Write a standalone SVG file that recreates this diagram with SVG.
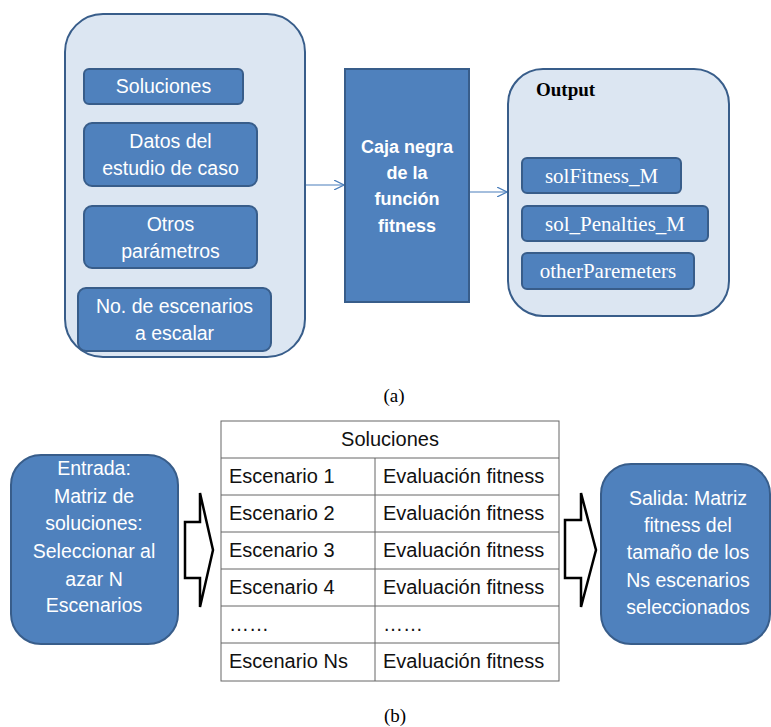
<svg xmlns="http://www.w3.org/2000/svg" width="771" height="727" viewBox="0 0 771 727">
<defs>
<style>
.cont{fill:#DCE6F2;stroke:#385D8A;stroke-width:2}
.blue{fill:#4F81BD;stroke:#385D8A;stroke-width:2}
.wt{font-family:"Liberation Sans","Open Sans",sans-serif;font-size:19.5px;fill:#fff;text-anchor:middle}
.wb{font-family:"Liberation Sans","Open Sans",sans-serif;font-size:18px;font-weight:bold;fill:#fff;text-anchor:middle}
.ws{font-family:"Liberation Serif","DejaVu Serif",serif;font-size:21px;fill:#fff;text-anchor:middle}
.cap{font-family:"Liberation Serif","DejaVu Serif",serif;font-size:19px;fill:#000;text-anchor:middle}
.tt{font-family:"Liberation Sans","Open Sans",sans-serif;font-size:20px;fill:#111}
.grid{stroke:#666;stroke-width:1;fill:none}
.blk{fill:#fff;stroke:#000;stroke-width:2.5}
.conn{stroke:#4A7EBB;stroke-width:1.2;fill:none}
</style>
<marker id="ah" viewBox="0 0 10 10" refX="10" refY="5" markerWidth="10" markerHeight="10" markerUnits="userSpaceOnUse" orient="auto">
<path d="M0,0 L10,5 L0,10" fill="none" stroke="#4A7EBB" stroke-width="1.2"/>
</marker>
</defs>
<rect width="771" height="727" fill="#fff"/>

<g id="inputs">
<rect class="cont" x="65" y="14" width="240" height="343" rx="38"/>
<g id="soluciones"><rect class="blue" x="84" y="69" width="159" height="35" rx="5"/><text class="wt" x="163.5" y="93">Soluciones</text></g>
<g id="datos"><rect class="blue" x="84" y="123" width="173" height="63" rx="8"/><text class="wt" x="170.5" y="148">Datos del</text><text class="wt" x="170.5" y="175">estudio de caso</text></g>
<g id="otros"><rect class="blue" x="84" y="206" width="173" height="62" rx="8"/><text class="wt" x="170.5" y="231">Otros</text><text class="wt" x="170.5" y="258">parámetros</text></g>
<g id="escenarios"><rect class="blue" x="78" y="288" width="193" height="63" rx="8"/><text class="wt" x="174.5" y="313">No. de escenarios</text><text class="wt" x="174.5" y="340">a escalar</text></g>
</g>

<g id="caja"><rect class="blue" x="345" y="69" width="124" height="233"/>
<text class="wb" x="407" y="153">Caja negra</text><text class="wb" x="407" y="179">de la</text><text class="wb" x="407" y="205">función</text><text class="wb" x="407" y="232">fitness</text></g>

<g id="output">
<rect class="cont" x="508" y="69" width="221" height="247" rx="35"/>
<text x="536" y="96" style="font-family:'Liberation Serif','DejaVu Serif',serif;font-size:19px;font-weight:bold;fill:#000">Output</text>
<g id="solFitness"><rect class="blue" x="522" y="158" width="159" height="35" rx="5"/><text class="ws" x="601.5" y="183">solFitness_M</text></g>
<g id="solPen"><rect class="blue" x="522" y="206" width="186" height="35" rx="5"/><text class="ws" x="615" y="231">sol_Penalties_M</text></g>
<g id="otherP"><rect class="blue" x="522" y="253" width="172" height="36" rx="5"/><text class="ws" x="608" y="278">otherParemeters</text></g>
</g>

<g id="connectors">
<line class="conn" x1="306" y1="185" x2="344" y2="185" marker-end="url(#ah)"/>
<line class="conn" x1="470" y1="192" x2="507" y2="192" marker-end="url(#ah)"/>
<polygon class="blk" points="185,522 200,522 200,493 213,550 200,607 200,578 185,578"/>
<polygon class="blk" points="565,520 581,520 581,493 596,550 581,607 581,578 565,578"/>
</g>

<text class="cap" x="394" y="402">(a)</text>

<g id="entrada"><rect class="blue" x="11" y="455" width="167" height="189" rx="30"/>
<text class="wt" x="94" y="475">Entrada:</text><text class="wt" x="94" y="503">Matriz de</text><text class="wt" x="94" y="530">soluciones:</text><text class="wt" x="94" y="558">Seleccionar al</text><text class="wt" x="94" y="586">azar N</text><text class="wt" x="94" y="612">Escenarios</text></g>

<g id="tabla">
<rect class="grid" x="221" y="421" width="338" height="260"/>
<path class="grid" d="M221,458H559M221,495H559M221,532H559M221,569H559M221,606H559M221,643H559M375,458V681"/>
<text class="tt" x="390" y="446" text-anchor="middle">Soluciones</text>
<text class="tt" x="229" y="483">Escenario 1</text><text class="tt" x="383" y="483">Evaluación fitness</text>
<text class="tt" x="229" y="520">Escenario 2</text><text class="tt" x="383" y="520">Evaluación fitness</text>
<text class="tt" x="229" y="557">Escenario 3</text><text class="tt" x="383" y="557">Evaluación fitness</text>
<text class="tt" x="229" y="594">Escenario 4</text><text class="tt" x="383" y="594">Evaluación fitness</text>
<text class="tt" x="229" y="631">……</text><text class="tt" x="383" y="631">……</text>
<text class="tt" x="229" y="668">Escenario Ns</text><text class="tt" x="383" y="668">Evaluación fitness</text>
</g>

<g id="salida"><rect class="blue" x="601" y="464" width="169" height="180" rx="30"/>
<text class="wt" x="688" y="505">Salida: Matriz</text><text class="wt" x="688" y="532">fitness del</text><text class="wt" x="688" y="559">tamaño de los</text><text class="wt" x="688" y="587">Ns escenarios</text><text class="wt" x="688" y="614">seleccionados</text></g>

<text class="cap" x="395" y="722">(b)</text>
</svg>
